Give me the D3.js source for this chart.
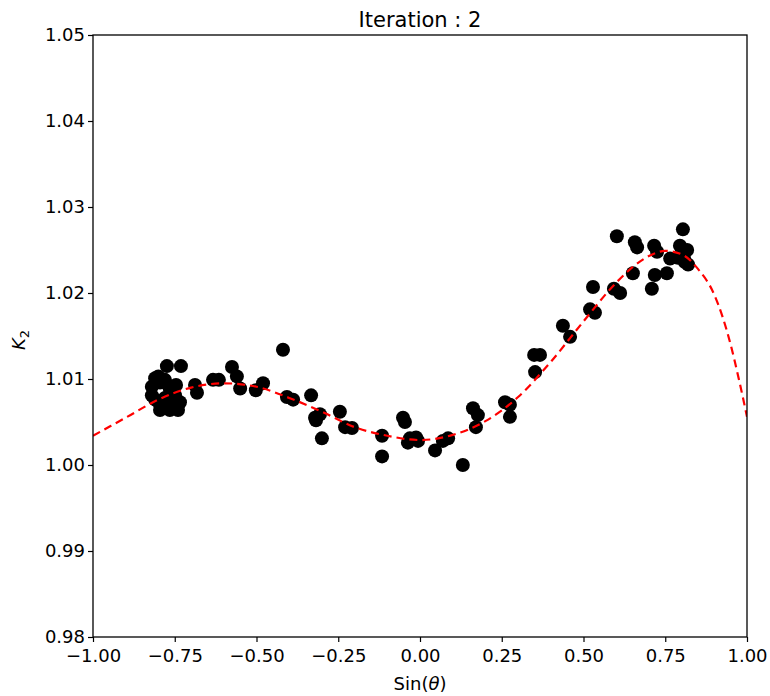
<!DOCTYPE html>
<html><head><meta charset="utf-8">
<script src="https://cdn.jsdelivr.net/npm/d3@7"></script>
<style>body{margin:0;background:#fff}svg{display:block}text{font-family:"DejaVu Sans",sans-serif}</style>
</head><body><svg id="c" width="770" height="696"></svg>
<script>
const title = "Iteration : 2";
const xTicks = [-1, -0.75, -0.5, -0.25, 0, 0.25, 0.5, 0.75, 1];
const yTicks = [0.98, 0.99, 1.00, 1.01, 1.02, 1.03, 1.04, 1.05];
const ptX = [-0.774,-0.731,-0.810,-0.800,-0.820,-0.820,-0.810,-0.795,-0.795,-0.780,-0.765,-0.749,-0.795,-0.765,-0.740,-0.758,-0.734,-0.780,-0.746,
 -0.688,-0.682,-0.633,-0.615,-0.575,-0.560,-0.550,-0.502,-0.480,-0.419,-0.407,-0.388,-0.333,-0.321,-0.306,-0.318,-0.300,-0.245,-0.229,-0.208,
 -0.116,-0.116,-0.052,-0.046,-0.037,-0.031,-0.012,-0.006,0.046,0.070,0.086,0.131,0.162,0.177,0.171,0.260,0.275,0.275,
 0.349,0.367,0.352,0.437,0.459,0.520,0.535,0.529,0.602,0.593,0.612,0.657,0.664,0.651,0.716,0.725,0.709,0.718,0.755,0.765,0.795,0.804,0.789,0.807,0.820,0.817,0.810];
const ptY = [1.0115,1.0115,1.0101,1.0103,1.0091,1.0081,1.0076,1.0070,1.0096,1.0099,1.0088,1.0081,1.0064,1.0064,1.0064,1.0072,1.0073,1.0078,1.0093,
 1.0093,1.0084,1.0099,1.0099,1.0114,1.0103,1.0089,1.0087,1.0095,1.0134,1.0079,1.0076,1.0081,1.0055,1.0059,1.0052,1.0031,1.0062,1.0044,1.0043,
 1.0034,1.0010,1.0055,1.0050,1.0026,1.0031,1.0032,1.0028,1.0017,1.0028,1.0031,1.0000,1.0066,1.0058,1.0044,1.0073,1.0070,1.0056,
 1.0128,1.0128,1.0108,1.0162,1.0149,1.0181,1.0177,1.0207,1.0266,1.0205,1.0200,1.0259,1.0253,1.0223,1.0255,1.0248,1.0205,1.0221,1.0223,1.0240,1.0255,1.0274,1.0241,1.0241,1.0233,1.0250,1.0236];
const fitX = [-1,-0.9,-0.8,-0.7,-0.6,-0.5,-0.4,-0.3,-0.2,-0.1,0,0.1,0.2,0.3,0.4,0.5,0.6,0.65,0.7,0.75,0.8,0.85,0.9,0.95,0.975,1];
const fitY = [1.0034,1.0055,1.0076,1.0090,1.0095,1.0091,1.0078,1.0062,1.0044,1.0034,1.0029,1.0035,1.0051,1.0079,1.0120,1.0167,1.0212,1.0230,1.0243,1.0249,1.0245,1.0228,1.0198,1.0140,1.0100,1.0056];

const svg = d3.select("#c");
const m = {l:93, t:35, r:23, b:59};
const W = 770 - m.l - m.r, H = 696 - m.t - m.b;
const x = d3.scaleLinear().domain([-1,1]).range([0,W]);
const y = d3.scaleLinear().domain([0.98,1.05]).range([H,0]);
const g = svg.append("g").attr("transform",`translate(${m.l},${m.t})`);

svg.append("defs").append("clipPath").attr("id","cp").append("rect").attr("width",W).attr("height",H);

const pts = ptX.map((v,i)=>[v,ptY[i]]);
const pg = g.append("g").attr("clip-path","url(#cp)");
pg.selectAll("circle").data(pts).join("circle")
  .attr("cx",d=>x(d[0])).attr("cy",d=>y(d[1])).attr("r",7).attr("fill","#000");
const fit = fitX.map((v,i)=>[v,fitY[i]]);
pg.append("path").datum(fit)
  .attr("d", d3.line().x(d=>x(d[0])).y(d=>y(d[1])).curve(d3.curveMonotoneX))
  .attr("fill","none").attr("stroke","#f00").attr("stroke-width",2.2).attr("stroke-dasharray","8,5");

const xa = g.append("g").attr("transform",`translate(0,${H})`)
  .call(d3.axisBottom(x).tickValues(xTicks).tickFormat(d3.format(".2f")).tickSizeOuter(0).tickSize(5));
const ya = g.append("g")
  .call(d3.axisLeft(y).tickValues(yTicks).tickFormat(d3.format(".2f")).tickSizeOuter(0).tickSize(5));
[xa,ya].forEach(a=>{a.selectAll("text").attr("font-size",18).attr("fill","#000").attr("font-family","DejaVu Sans");
  a.selectAll("line").attr("stroke","#000").attr("stroke-width",1.2); a.select(".domain").remove();});
xa.selectAll("text").attr("dy","0.95em");
g.append("rect").attr("width",W).attr("height",H).attr("fill","none").attr("stroke","#000").attr("stroke-width",1.3);

svg.append("text").attr("x",m.l+W/2).attr("y",27).attr("text-anchor","middle").attr("font-size",21).text(title);
const xl = svg.append("text").attr("x",m.l+W/2).attr("y",690).attr("text-anchor","middle").attr("font-size",18);
xl.append("tspan").text("Sin(");
xl.append("tspan").attr("font-style","italic").text("θ");
xl.append("tspan").text(")");
const yl = svg.append("text").attr("transform","translate(25,340) rotate(-90)").attr("text-anchor","middle").attr("font-size",18);
yl.append("tspan").attr("font-style","italic").text("K");
yl.append("tspan").attr("font-size",13).attr("dy",4).text("2");
</script></body></html>
